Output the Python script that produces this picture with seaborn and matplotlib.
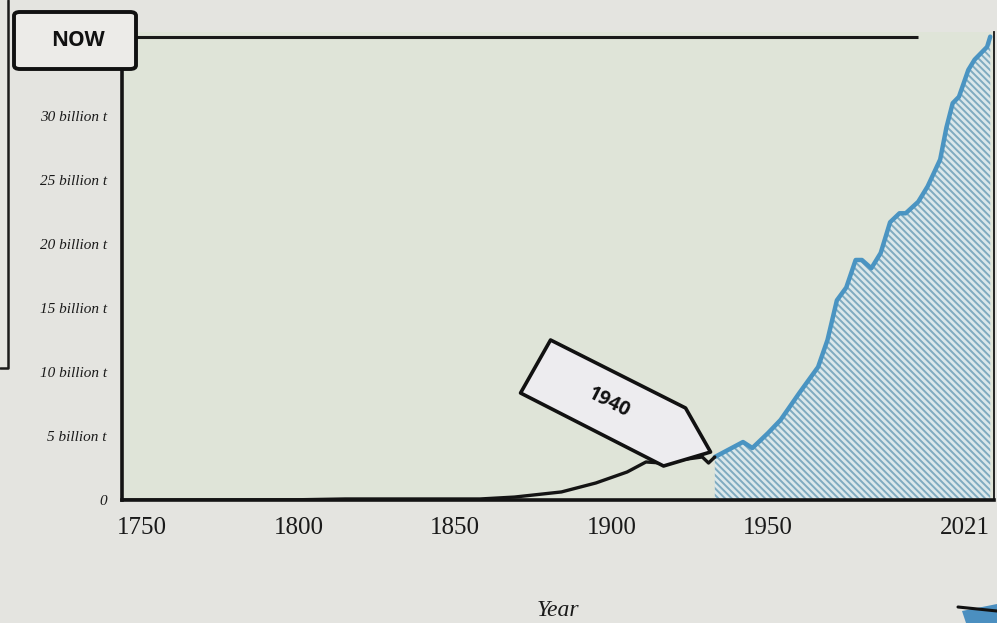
import matplotlib
matplotlib.use("Agg")
import matplotlib.pyplot as plt
import matplotlib.transforms as mtransforms
from matplotlib.patches import FancyBboxPatch, Polygon
from matplotlib.lines import Line2D
import seaborn as sns
import pandas as pd

# --- data (billion tonnes of CO2 per year) ---
early_years = [1744, 1800, 1815, 1858, 1869, 1884, 1895, 1905, 1911, 1916, 1922, 1929, 1931, 1933]
early_values = [0.0, 0.02, 0.08, 0.08, 0.23, 0.63, 1.33, 2.19, 2.97, 2.89, 3.13, 3.36, 2.89, 3.36]

late_years = [1933, 1939, 1942, 1945, 1950, 1954, 1960, 1966, 1969, 1972, 1975, 1978, 1980,
              1983, 1986, 1989, 1992, 1994, 1998, 2001, 2005, 2007, 2009, 2011, 2014, 2016,
              2018, 2020, 2021]
late_values = [3.36, 4.14, 4.53, 4.06, 5.23, 6.25, 8.36, 10.39, 12.5, 15.6, 16.6, 18.75, 18.75,
               18.1, 19.3, 21.7, 22.4, 22.4, 23.3, 24.5, 26.6, 29.1, 31.0, 31.5, 33.6, 34.4,
               34.9, 35.4, 36.2]

year_ticks = [1750, 1800, 1850, 1900, 1950, 2021]
value_ticks = [0, 5, 10, 15, 20, 25, 30]
value_labels = ["0", "5 billion t", "10 billion t", "15 billion t", "20 billion t",
                "25 billion t", "30 billion t"]
tag_label = "1940"

df_early = pd.DataFrame({"year": early_years, "co2": early_values})
df_late = pd.DataFrame({"year": late_years, "co2": late_values})

sns.set_style("white")
plt.rcParams["font.family"] = ["Liberation Serif", "DejaVu Serif"]
plt.rcParams["hatch.linewidth"] = 1.4

W, H = 997, 623
fig = plt.figure(figsize=(W / 100, H / 100), dpi=100)
fig.patch.set_facecolor("#e4e4e0")

# axes box in pixels: x 122..994, y 31.5..500 (from top)
ax = fig.add_axes([122 / W, (H - 500) / H, (994 - 122) / W, (500 - 31.5) / H])
ax.set_facecolor("#dfe4d8")

# hatched area after the tag
ax.fill_between(df_late["year"], df_late["co2"], 0, facecolor="#dbe8eb",
                edgecolor="#7fabc0", linewidth=0, hatch="\\\\\\\\\\", zorder=1)
sns.lineplot(data=df_late, x="year", y="co2", ax=ax, color="#4a94c2", linewidth=3.2,
             zorder=3, clip_on=False)
sns.lineplot(data=df_early, x="year", y="co2", ax=ax, color="#141414", linewidth=2.4,
             zorder=4)

ax.set_xlim(1743.6, 2022.2)
ax.set_ylim(0, 36.6)

# "now" level line
now_level = late_values[-1]
ax.hlines(now_level, 1743.6, 1998, color="#1a1a1a", linewidth=2.2, zorder=2)

ax.set_xticks(year_ticks)
ax.set_xticklabels([str(y) for y in year_ticks], fontsize=18)
ax.get_xticklabels()[-1].set_horizontalalignment("right")
ax.set_yticks(value_ticks)
ax.set_yticklabels(value_labels, fontsize=11, style="italic")
ax.tick_params(axis="x", length=0, pad=12, colors="#1a1a1a")
ax.tick_params(axis="y", length=0, pad=11, colors="#1a1a1a")
ax.set_xlabel("Year", fontsize=17, style="italic", labelpad=44, color="#1a1a1a")
ax.set_ylabel("")

ax.spines["top"].set_visible(False)
ax.spines["left"].set_linewidth(2.6)
ax.spines["bottom"].set_linewidth(2.6)
ax.spines["right"].set_linewidth(1.3)
for s in ax.spines.values():
    s.set_color("#141414")

# "1940" tag pointing at the end of the black curve
anchor = mtransforms.ScaledTranslation(early_years[-2], early_values[-2], ax.transData)
tag_trans = fig.dpi_scale_trans + anchor
tag_pts = [(-158, 123), (-23, 55), (2, 11), (-45, -3), (-188, 70)]
tag = Polygon([(px / 100, py / 100) for px, py in tag_pts], closed=True,
              facecolor="#edecef", edgecolor="#111111", linewidth=2.6,
              joinstyle="round", transform=tag_trans, zorder=6, clip_on=False)
ax.add_patch(tag)
ax.text(-100 / 100, 60 / 100, tag_label, transform=tag_trans, rotation=-27,
        ha="center", va="center", fontsize=14, fontweight="bold",
        family=["Open Sans", "DejaVu Sans"], color="#111111", zorder=7)

# NOW box in the top-left corner
now_box = FancyBboxPatch((14 / W, (H - 69) / H), 122 / W, 57 / H,
                         boxstyle="round,pad=0,rounding_size=0.006",
                         transform=fig.transFigure, facecolor="#ecebe8",
                         edgecolor="#111111", linewidth=2.8, zorder=5)
fig.add_artist(now_box)
fig.text(78 / W, (H - 40) / H, "NOW", ha="center", va="center", fontsize=15,
         fontweight="bold", family=["Open Sans", "DejaVu Sans"], color="#111111",
         zorder=8)

# edge of the neighbouring panel in the photo
fig.add_artist(Line2D([8 / W, 8 / W, 0], [1, (H - 368) / H, (H - 368) / H],
                      transform=fig.transFigure, color="#1a1a1a", linewidth=1.8))
fig.add_artist(Polygon([(962 / W, (H - 611) / H), (1, (H - 604) / H), (1, 0), (966 / W, 0)],
                       closed=True, transform=fig.transFigure, facecolor="#4b8fc0",
                       edgecolor="none"))
fig.add_artist(Line2D([958 / W, 1], [(H - 607) / H, (H - 611) / H],
                      transform=fig.transFigure, color="#111111", linewidth=2.2))

fig.savefig("out.png", dpi=100, facecolor=fig.get_facecolor())
